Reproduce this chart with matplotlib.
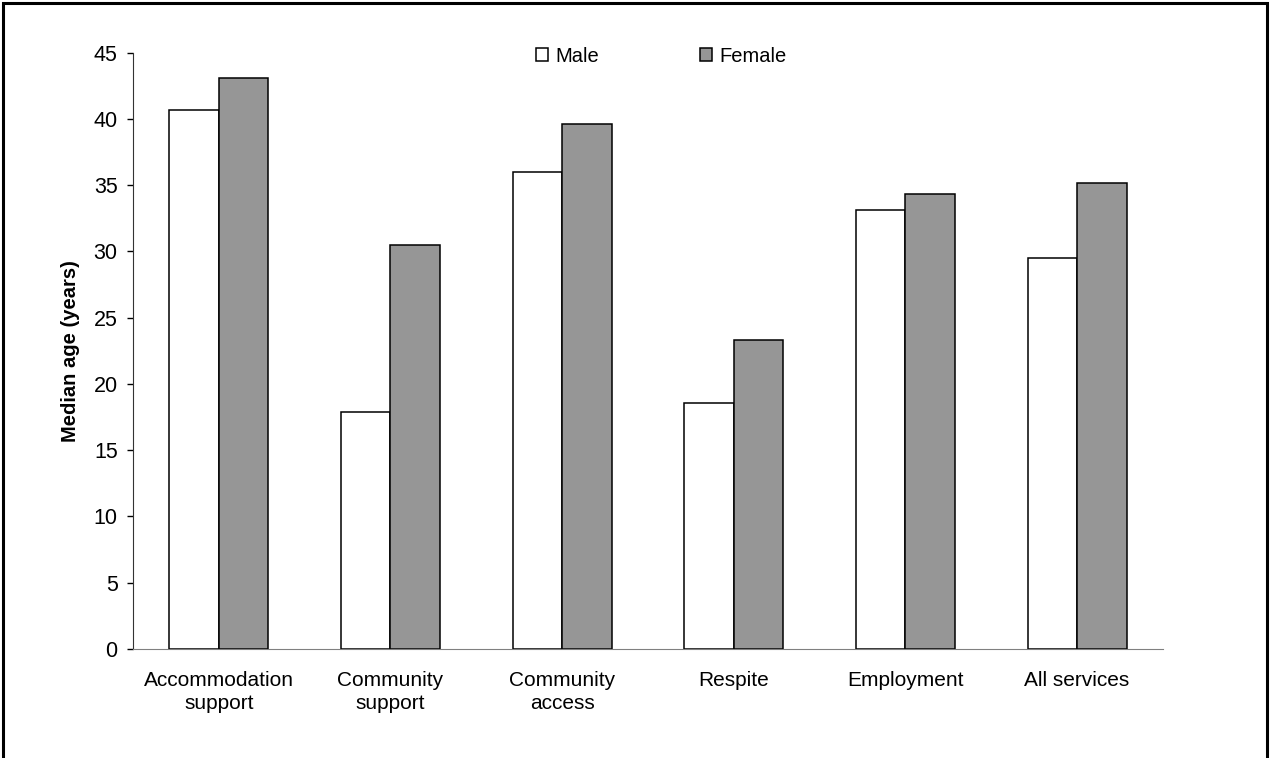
import matplotlib
matplotlib.use("AGG")
import matplotlib.pyplot as plt
import numpy as np
from matplotlib.patches import Rectangle

plt.rcParams['font.family'] = ['Liberation Sans', 'DejaVu Sans']

# median age by service type
categories = ['Accommodation\nsupport', 'Community\nsupport', 'Community\naccess',
              'Respite', 'Employment', 'All services']
male = [40.7, 17.9, 36.0, 18.6, 33.1, 29.5]
female = [43.1, 30.5, 39.6, 23.3, 34.3, 35.2]

fig = plt.figure(figsize=(12.7, 7.58), dpi=100)
ax = fig.add_axes([0.1047, 0.1438, 0.811, 0.7867])

x = np.arange(len(categories))
w = 0.288
ax.bar(x - w/2, male, w, color='white', edgecolor='black', linewidth=1.1, label='Male')
ax.bar(x + w/2, female, w, color='#969696', edgecolor='black', linewidth=1.1, label='Female')

ax.set_xlim(-0.5, len(categories) - 0.5)
ax.set_ylim(0, 45)
ax.set_yticks(range(0, 46, 5))
ax.set_xticks(x)
ax.set_xticklabels(categories, fontsize=15, linespacing=1.25)
ax.tick_params(axis='x', length=0, pad=16)
ax.tick_params(axis='y', labelsize=15.5, length=4, width=1, direction='out', pad=7)
ax.set_ylabel('Median age (years)', fontsize=14.5, fontweight='bold', labelpad=10)

for s in ['top', 'right']:
    ax.spines[s].set_visible(False)
ax.spines['left'].set_color('#333333')
ax.spines['bottom'].set_color('#808080')

ax.legend(ncol=2, loc='upper center', bbox_to_anchor=(0.513, 1.04), frameon=False,
          fontsize=14.5, handlelength=0.6, handleheight=0.6, handletextpad=0.35,
          columnspacing=5.0)

# outer frame round the whole chart
fig.patches.append(Rectangle((0.0024, -0.02), 0.9952, 1.016, transform=fig.transFigure,
                             fill=False, edgecolor='black', linewidth=2.2))

plt.savefig('out.png', dpi=100)
